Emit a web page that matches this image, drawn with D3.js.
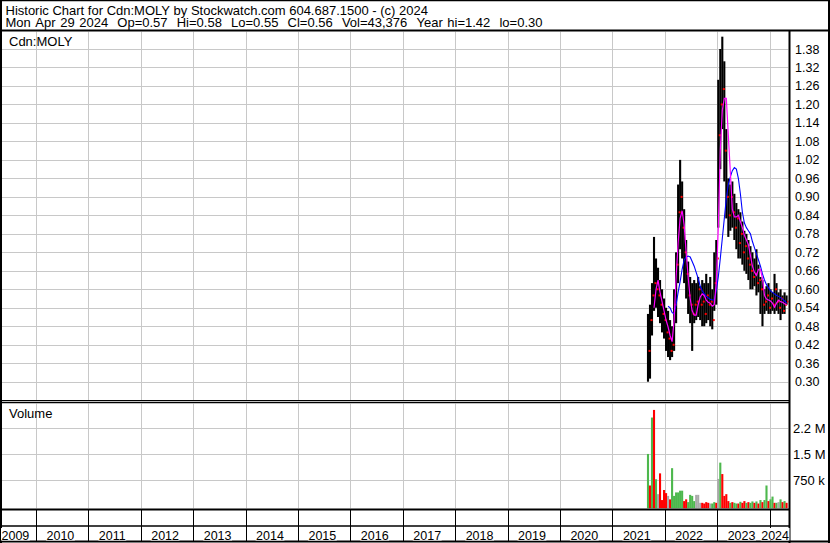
<!DOCTYPE html>
<html><head><meta charset="utf-8">
<script src="https://cdn.jsdelivr.net/npm/d3@7"></script>
<style>html,body{margin:0;padding:0;background:#fff;} svg{display:block;}</style>
</head><body>
<svg id="c" width="830" height="543"></svg>
<script>
// ---------------- DATA ----------------
const dates = [
"2021-09-06","2021-09-20","2021-10-04","2021-10-18","2021-11-01","2021-11-15","2021-11-29","2021-12-13","2021-12-27",
"2022-01-10","2022-01-24","2022-02-07","2022-02-21","2022-03-07","2022-03-21","2022-04-04","2022-04-18","2022-05-02","2022-05-16","2022-05-30","2022-06-13","2022-06-27","2022-07-11","2022-07-25","2022-08-08","2022-08-22","2022-09-05","2022-09-19","2022-10-03","2022-10-17","2022-10-31","2022-11-14","2022-11-28","2022-12-12","2022-12-26",
"2023-01-09","2023-01-23","2023-02-06","2023-02-20","2023-03-06","2023-03-20","2023-04-03","2023-04-17","2023-05-01","2023-05-15","2023-05-29","2023-06-12","2023-06-26","2023-07-10","2023-07-24","2023-08-07","2023-08-21","2023-09-04","2023-09-18","2023-10-02","2023-10-16","2023-10-30","2023-11-13","2023-11-27","2023-12-11","2023-12-25",
"2024-01-08","2024-01-22","2024-02-05","2024-02-19","2024-03-04","2024-03-18","2024-04-01","2024-04-15","2024-04-29"];

const highs = [0.52,0.55,0.62,0.77,0.70,0.67,0.63,0.60,0.57,0.54,
  0.53,0.50,0.48,0.60,0.72,0.94,1.02,0.95,0.86,0.76,
  0.69,0.64,0.62,0.63,0.62,0.64,0.61,0.63,0.62,0.65,
  0.62,0.64,0.60,0.72,0.76,1.28,1.38,1.42,1.34,1.12,
  0.96,0.94,0.95,0.91,0.88,0.86,0.85,0.82,0.79,0.78,
  0.76,0.74,0.72,0.70,0.73,0.68,0.64,0.63,0.60,0.61,
  0.62,0.60,0.59,0.65,0.62,0.59,0.60,0.58,0.59,0.58];

const lows = [0.30,0.31,0.45,0.53,0.54,0.51,0.49,0.46,0.44,0.40,
  0.38,0.37,0.38,0.40,0.49,0.62,0.73,0.70,0.62,0.57,
  0.52,0.49,0.40,0.49,0.50,0.51,0.50,0.48,0.48,0.49,
  0.50,0.48,0.47,0.53,0.55,0.80,0.99,1.12,0.95,0.83,
  0.77,0.79,0.80,0.76,0.73,0.70,0.70,0.68,0.66,0.65,
  0.63,0.60,0.60,0.61,0.58,0.59,0.52,0.48,0.52,0.53,
  0.52,0.52,0.53,0.52,0.53,0.52,0.50,0.52,0.52,0.55];

const closes = [0.40,0.50,0.58,0.62,0.60,0.58,0.55,0.52,0.50,0.46,
  0.44,0.40,0.42,0.55,0.68,0.85,0.90,0.80,0.72,0.65,
  0.58,0.55,0.52,0.55,0.56,0.60,0.55,0.56,0.52,0.58,
  0.55,0.56,0.50,0.62,0.70,1.10,1.20,1.25,1.05,0.90,
  0.84,0.90,0.85,0.80,0.83,0.75,0.78,0.72,0.74,0.70,
  0.68,0.66,0.64,0.65,0.62,0.63,0.60,0.55,0.56,0.58,
  0.54,0.57,0.55,0.60,0.56,0.54,0.57,0.53,0.55,0.56];

// magenta (short) moving average
const maShort = [null,null,null,0.54,0.60,0.63,0.59,0.56,0.53,0.50,
  0.478,0.45,0.43,0.50,0.64,0.75,0.83,0.855,0.81,0.72,
  0.64,0.57,0.53,0.516,0.516,0.55,0.575,0.585,0.58,0.565,
  0.558,0.555,0.545,0.55,0.62,0.80,1.05,1.18,1.22,1.22,
  1.10,0.98,0.86,0.835,0.835,0.84,0.82,0.80,0.775,0.76,
  0.745,0.71,0.675,0.655,0.645,0.665,0.665,0.635,0.58,0.568,
  0.565,0.562,0.555,0.542,0.555,0.565,0.56,0.558,0.553,0.55];

// blue (long) moving average
const maLong = [null,null,null,null,null,null,null,null,null,null,
  0.545,0.54,0.525,0.52,0.55,0.59,0.625,0.665,0.695,0.705,
  0.708,0.705,0.69,0.675,0.655,0.635,0.61,0.595,0.585,0.578,
  0.572,0.568,0.565,0.565,0.595,0.64,0.70,0.765,0.83,0.895,
  0.94,0.965,0.985,0.995,0.99,0.96,0.91,0.85,0.815,0.80,
  0.79,0.78,0.755,0.735,0.715,0.695,0.675,0.65,0.63,0.615,
  0.605,0.595,0.59,0.585,0.58,0.577,0.573,0.568,0.562,0.555];

const volumes = [1510000,600000,2560000,2780000,780000,350000,950000,180000,470000,380000,
  300000,200000,1100000,300000,400000,400000,450000,450000,150000,200000,
  120000,330000,300000,150000,330000,330000,100000,100000,80000,120000,
  100000,80000,80000,120000,100000,790000,1260000,930000,300000,350000,
  150000,100000,120000,100000,80000,80000,130000,100000,150000,100000,
  120000,100000,140000,100000,140000,80000,180000,120000,180000,600000,
  150000,200000,280000,100000,100000,120000,200000,120000,150000,100000];

// G = up day (green), R = down day (red), N = unchanged (grey)
const volDir = ["G","R","G","R","G","N","R","R","R","R",
  "N","R","G","G","G","G","G","G","R","R",
  "G","G","G","G","N","N","N","R","R","R",
  "R","N","G","G","R","N","G","R","R","R",
  "R","G","R","G","G","R","G","R","R","G",
  "R","G","G","R","G","R","G","R","G","G",
  "R","G","G","R","G","N","G","R","G","R"];

const years = [2009,2010,2011,2012,2013,2014,2015,2016,2017,2018,2019,2020,2021,2022,2023,2024];
const priceTicks = [0.30,0.36,0.42,0.48,0.54,0.60,0.66,0.72,0.78,0.84,0.90,0.96,1.02,1.08,1.14,1.20,1.26,1.32,1.38];
const volTicks = [750000,1500000,2250000];
const volTickLabels = ["750 k","1.5 M","2.2 M"];

const title1 = "Historic Chart for Cdn:MOLY by Stockwatch.com 604.687.1500 - (c) 2024";
const title2 = "Mon Apr 29 2024  Op=0.57  Hi=0.58  Lo=0.55  Cl=0.56  Vol=43,376  Year hi=1.42  lo=0.30";
const symbolLabel = "Cdn:MOLY";
const volumeLabel = "Volume";

// ---------------- LAYOUT ----------------
const W = 830, H = 543;
const FONT = '"Liberation Sans", Arial, Helvetica, sans-serif';
const GRID = "#c8c8c8";
const plotL = 2, plotR = 788.5;
const priceTop = 31.5, priceBot = 400;
const volTop = 403.5, volBot = 508.5;

const svg = d3.select("#c");
const parse = d3.timeParse("%Y-%m-%d");
const D = dates.map(parse);

const x = d3.scaleTime().domain([new Date(2010,0,1), new Date(2024,0,1)]).range([36, 769.5]);
const y = d3.scaleLinear().domain([0.30, 1.38]).range([381.7, 49]);
const yv = d3.scaleLinear().domain([0, 2250000]).range([506.3, 428.3]);

svg.append("rect").attr("width", W).attr("height", H).attr("fill", "#fff");

const defs = svg.append("defs");
defs.append("clipPath").attr("id","cp").append("rect")
  .attr("x", plotL).attr("y", priceTop).attr("width", plotR-plotL).attr("height", priceBot-priceTop);
defs.append("clipPath").attr("id","cv").append("rect")
  .attr("x", plotL).attr("y", volTop).attr("width", plotR-plotL).attr("height", volBot-volTop);

const yearStarts = years.map(yy => new Date(yy,0,1));
const yearLines = yearStarts.filter(d => x(d) > plotL && x(d) < plotR);
const crisp = v => Math.round(v) + 0.5;

// ---- grid: price panel
const gp = svg.append("g").attr("clip-path","url(#cp)");
gp.selectAll("line.h").data(priceTicks).join("line")
  .attr("x1", plotL).attr("x2", plotR)
  .attr("y1", d => crisp(y(d))).attr("y2", d => crisp(y(d)))
  .attr("stroke", GRID).attr("stroke-width", 1);
gp.selectAll("line.v").data(yearLines).join("line")
  .attr("x1", d => crisp(x(d))).attr("x2", d => crisp(x(d)))
  .attr("y1", priceTop).attr("y2", priceBot)
  .attr("stroke", GRID).attr("stroke-width", 1);

// ---- grid: volume panel
const gv = svg.append("g").attr("clip-path","url(#cv)");
gv.selectAll("line.h").data(volTicks).join("line")
  .attr("x1", plotL).attr("x2", plotR)
  .attr("y1", d => crisp(yv(d))).attr("y2", d => crisp(yv(d)))
  .attr("stroke", GRID).attr("stroke-width", 1);
gv.selectAll("line.v").data(yearLines).join("line")
  .attr("x1", d => crisp(x(d))).attr("x2", d => crisp(x(d)))
  .attr("y1", volTop).attr("y2", volBot)
  .attr("stroke", GRID).attr("stroke-width", 1);

// ---- price bars
const idx = d3.range(D.length);
gp.append("g").selectAll("rect").data(idx).join("rect")
  .attr("x", i => x(D[i]) - 1.05)
  .attr("width", 2.1)
  .attr("y", i => y(highs[i]))
  .attr("height", i => Math.max(1, y(lows[i]) - y(highs[i])))
  .attr("fill", "#000");

// ---- close ticks (red)
gp.append("g").selectAll("rect").data(idx).join("rect")
  .attr("x", i => x(D[i]) + 0.5)
  .attr("width", 2)
  .attr("y", i => y(closes[i]) - 1)
  .attr("height", 2)
  .attr("fill", "#ff0000");

// ---- moving averages
const lineGen = arr => d3.line()
  .defined(i => arr[i] != null)
  .x(i => x(D[i]))
  .y(i => y(arr[i]));
gp.append("path").datum(idx).attr("d", lineGen(maLong))
  .attr("fill","none").attr("stroke","#0000ff").attr("stroke-width",1.1);
gp.append("path").datum(idx).attr("d", lineGen(maShort))
  .attr("fill","none").attr("stroke","#ff00ff").attr("stroke-width",1.2);

// ---- volume bars
const volColor = {G:"#4db84d", R:"#ff0000", N:"#a9a9a9"};
gv.append("g").selectAll("rect").data(idx).join("rect")
  .attr("x", i => x(D[i]) - 1.05)
  .attr("width", 2.1)
  .attr("y", i => yv(volumes[i]))
  .attr("height", i => volBot - yv(volumes[i]))
  .attr("fill", i => volColor[volDir[i]]);

// ---- frame lines
const frame = svg.append("g").attr("stroke", "#000").attr("fill","none");
frame.append("line").attr("x1",0).attr("x2",W).attr("y1",0.5).attr("y2",0.5).attr("stroke-width",1.5);
frame.append("line").attr("x1",1).attr("x2",1).attr("y1",0).attr("y2",H).attr("stroke-width",2);
frame.append("line").attr("x1",W-1).attr("x2",W-1).attr("y1",0).attr("y2",H).attr("stroke-width",2);
frame.append("line").attr("x1",0).attr("x2",W).attr("y1",541.5).attr("y2",541.5).attr("stroke-width",2);
frame.append("line").attr("x1",0).attr("x2",W).attr("y1",30.5).attr("y2",30.5).attr("stroke-width",2);
frame.append("line").attr("x1",789.5).attr("x2",789.5).attr("y1",30).attr("y2",H).attr("stroke-width",2);
frame.append("line").attr("x1",0).attr("x2",789).attr("y1",400.5).attr("y2",400.5).attr("stroke-width",1);
frame.append("line").attr("x1",0).attr("x2",789).attr("y1",402.5).attr("y2",402.5).attr("stroke-width",1.5);
frame.append("line").attr("x1",0).attr("x2",789).attr("y1",509.5).attr("y2",509.5).attr("stroke-width",2);
frame.append("line").attr("x1",0).attr("x2",789).attr("y1",526).attr("y2",526).attr("stroke-width",1.5);
frame.selectAll("line.yd").data(yearLines).join("line")
  .attr("x1", d => crisp(x(d))).attr("x2", d => crisp(x(d)))
  .attr("y1", 510).attr("y2", 541).attr("stroke-width",1);

// ---- year labels (left at year start + offset, clamped inside the panel)
const yl = svg.append("g").attr("font-family", FONT).attr("font-size", 12.5).attr("fill","#000");
years.forEach((yy, k) => {
  const t = yl.append("text").attr("y", 539.5).text(String(yy));
  const w = t.node().getComputedTextLength();
  let left = x(yearStarts[k]) + 10.5;
  left = Math.max(1.5, Math.min(left, 789 - w));
  t.attr("x", left);
  yl.insert("rect", "text").attr("x", left - 0.5).attr("y", 528).attr("width", w + 1).attr("height", 12.5)
    .attr("fill", "#fff");
});
yl.selectAll("text").raise();

// ---- price axis labels
svg.append("g").attr("font-family", FONT).attr("font-size", 12.5).attr("fill","#000")
  .selectAll("text").data(priceTicks).join("text")
  .attr("x", 795).attr("y", d => y(d) + 4.5)
  .text(d => d.toFixed(2));

// ---- volume axis labels
svg.append("g").attr("font-family", FONT).attr("font-size", 13).attr("fill","#000")
  .selectAll("text").data(volTicks).join("text")
  .attr("x", 793).attr("y", d => yv(d) + 4.5)
  .text((d,i) => volTickLabels[i]);

// ---- title block: one text, two lines
const nb = s => s.replace(/ /g, "\u00A0");
const tt = svg.append("text").attr("font-family", FONT).attr("font-size", 13).attr("fill", "#000");
const ts1 = tt.append("tspan").attr("x", 5.5).attr("y", 14.5).text(nb(title1));
const ts2 = tt.append("tspan").attr("x", 5.5).attr("y", 26.7).text(nb(title2));
// widen the gaps of line 2 so it spans like the reference
{
  const w2 = ts2.node().getComputedTextLength();
  const nSp = (title2.match(/ /g) || []).length;
  const extra = Math.max(0, Math.min(2, (537 - w2) / nSp));
  ts2.attr("word-spacing", extra);
}

svg.append("text").attr("x", 9).attr("y", 45.5).attr("font-family", FONT).attr("font-size", 13)
  .attr("fill", "#000").text(symbolLabel);
svg.append("text").attr("x", 9).attr("y", 417.5).attr("font-family", FONT).attr("font-size", 13)
  .attr("fill", "#000").text(volumeLabel);
</script>
</body></html>
